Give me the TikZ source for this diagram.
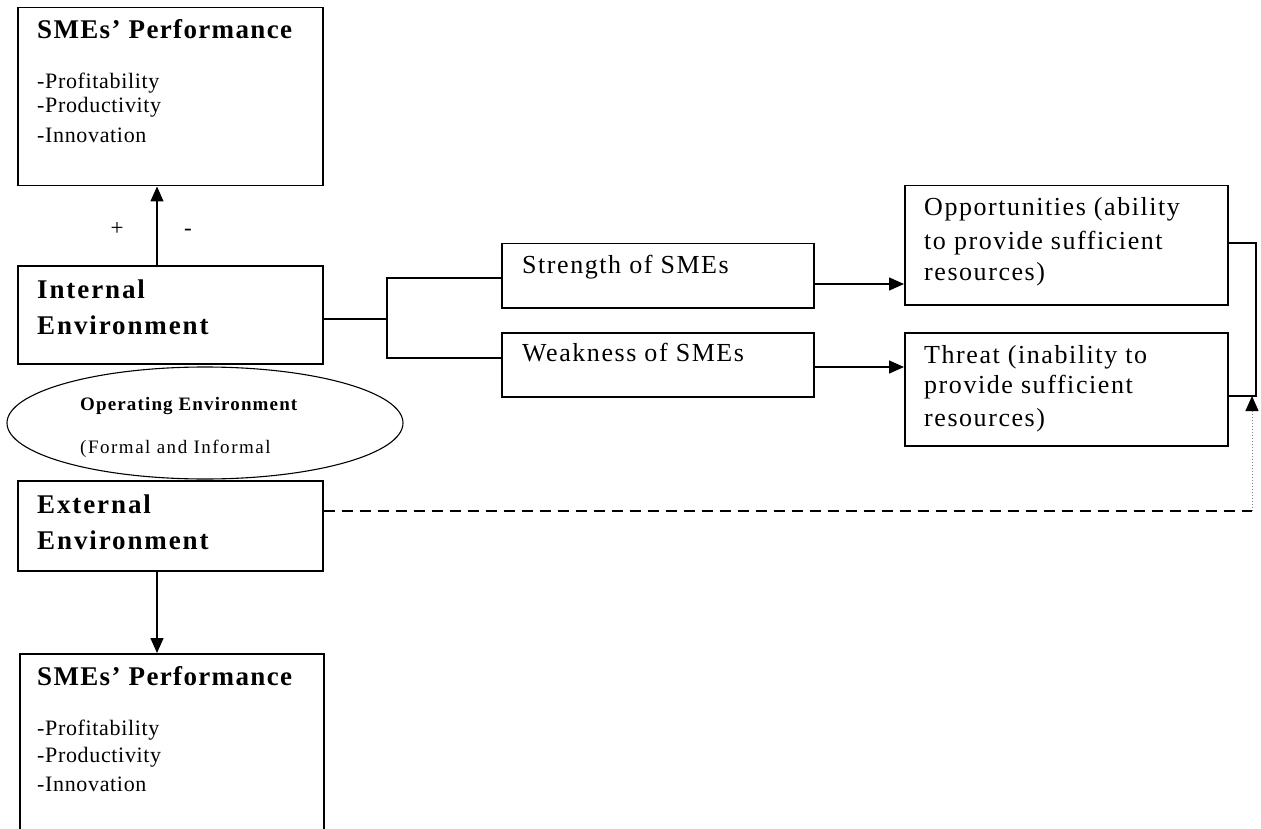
\documentclass[tikz,border=0pt]{standalone}
\usepackage{fontspec}
\setmainfont{Liberation Serif}
\newfontfamily\lsA{Liberation Serif}[LetterSpace=5]
\newfontfamily\lsB{Liberation Serif}[LetterSpace=3]
\newfontfamily\lsC{Liberation Serif}[LetterSpace=7]
\newfontfamily\lsD{Liberation Serif}[LetterSpace=6]
\newfontfamily\lsE{Liberation Serif}[LetterSpace=8]
\usetikzlibrary{arrows.meta,shapes.geometric}
\tikzset{
  box/.style={draw, line width=1.5pt, anchor=north west, inner sep=0pt},
  conn/.style={line width=1.5pt},
  arr/.style={conn, -{Triangle[length=15pt,width=13pt]}},
  t/.style={anchor=base west, inner sep=0pt},
  ttl/.style={t, font=\lsA\bfseries\fontsize{27}{32}\selectfont},
  itm/.style={t, font=\lsB\fontsize{22}{26}\selectfont},
  env/.style={t, font=\lsC\bfseries\fontsize{27}{32}\selectfont},
  bt/.style={t, font=\lsD\fontsize{26}{30}\selectfont},
  elb/.style={t, font=\lsD\bfseries\fontsize{19}{23}\selectfont},
  el/.style={t, font=\lsE\fontsize{19}{23}\selectfont},
  sg/.style={anchor=base, inner sep=0pt, font=\fontsize{23}{27}\selectfont}
}
\begin{document}
\begin{tikzpicture}[x=1pt,y=-1pt]
\useasboundingbox (0,0) rectangle (1261,829);
% boxes
\node[box, minimum width=305pt, minimum height=178pt] (perfA) at (17,7) {};
\node[box, minimum width=305pt, minimum height=98pt] (int) at (17,265) {};
\node[box, minimum width=305pt, minimum height=90pt] (ext) at (17,480) {};
\node[box, minimum width=304pt, minimum height=200pt] (perfB) at (19,653) {};
\node[box, minimum width=312pt, minimum height=64pt] (str) at (501,243) {};
\node[box, minimum width=312pt, minimum height=64pt] (weak) at (501,332) {};
\node[box, minimum width=323pt, minimum height=119pt] (opp) at (904,185) {};
\node[box, minimum width=323pt, minimum height=113pt] (thr) at (904,332) {};
\node[draw, line width=1.1pt, ellipse, minimum width=396pt, minimum height=112pt, inner sep=0pt] (op) at (205,423) {};
% texts
\node[ttl] (tA) at (37,39) {SMEs’ Performance};
\node[itm] (a1) at (37,89) {-Profitability};
\node[itm] (a2) at (37,113) {-Productivity};
\node[itm] (a3) at (37,143) {-Innovation};
\node[sg] (plus) at (117,236) {+};
\node[sg] (minus) at (188,236) {-};
\node[env] (i1) at (37,298) {Internal};
\node[env] (i2) at (37,334) {Environment};
\node[elb] (o1) at (80,410) {Operating Environment};
\node[el] (o2) at (80,453) {(Formal and Informal};
\node[env] (e1) at (37,513) {External};
\node[env] (e2) at (37,549) {Environment};
\node[ttl] (tB) at (37,685) {SMEs’ Performance};
\node[itm] (b1) at (37,735) {-Profitability};
\node[itm] (b2) at (37,762) {-Productivity};
\node[itm] (b3) at (37,791) {-Innovation};
\node[bt] (s1) at (522,273) {Strength of SMEs};
\node[bt] (w1) at (522,361) {Weakness of SMEs};
\node[bt] (p1) at (924,215) {Opportunities (ability};
\node[bt] (p2) at (924,249) {to provide sufficient};
\node[bt] (p3) at (924,280) {resources)};
\node[bt] (h1) at (924,363) {Threat (inability to};
\node[bt] (h2) at (924,393) {provide sufficient};
\node[bt] (h3) at (924,426) {resources)};
% coordinates
\coordinate (j) at (387,319);
\coordinate (rb) at (1256,243);
\coordinate (dd) at (1252,511);
% connectors
\draw[arr] (int.north -| 157,0) -- (perfA.south -| 157,0);
\draw[arr] (ext.south -| 157,0) -- (perfB.north -| 157,0);
\draw[conn] (int.east |- j) -- (j);
\draw[conn] (str.west |- 0,278) -| (j) |- (weak.west |- 0,358);
\draw[arr] (str.east |- 0,284) -- (opp.west |- 0,284);
\draw[arr] (weak.east |- 0,367) -- (thr.west |- 0,367);
\draw[conn] (opp.east |- rb) -- (rb) -- (rb |- 0,396) -- (thr.east |- 0,396);
\draw[line width=1.4pt, dash pattern=on 11pt off 7pt] (ext.east |- dd) -- (dd);
\draw[line width=1pt, gray, dotted, -{Triangle[length=15pt,width=13pt,color=black,fill=black]}] (dd) -- (dd |- 0,396);
\end{tikzpicture}
\end{document}
